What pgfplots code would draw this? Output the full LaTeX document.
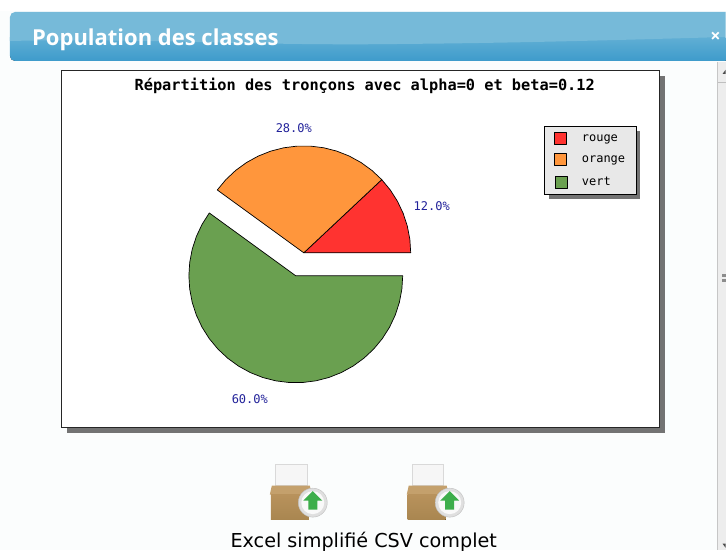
\documentclass[border=0pt]{standalone}
\usepackage{pgfplots}
\pgfplotsset{compat=1.18}
\usepackage{fontspec}
\setmainfont{DejaVu Sans}
\newfontfamily\monof{DejaVu Sans Mono}
\newfontfamily\headf{Open Sans}
\definecolor{pageb}{HTML}{FBFDFD}
\definecolor{rouge}{HTML}{FF3330}
\definecolor{orangep}{HTML}{FF963C}
\definecolor{vert}{HTML}{6AA050}
\definecolor{lab}{HTML}{22229A}
\definecolor{legb}{HTML}{E8E8E8}
\definecolor{headA}{HTML}{76BAD9}
\definecolor{headC}{HTML}{5FAED4}
\definecolor{headD}{HTML}{3E9BCB}
\definecolor{boxA}{HTML}{B8925C}
\definecolor{boxB}{HTML}{A98650}
\definecolor{boxC}{HTML}{C4A06C}
\definecolor{arrowg}{HTML}{3DAE4B}
\newcommand{\fs}[1]{\fontsize{#1}{#1}\selectfont}
\newcommand{\icon}[1]{%
\begin{scope}[shift={(axis cs:#1,0)},x=1pt,y=-1pt]
 \fill[white!93!gray,draw=gray!30] (275,465) rectangle (307,486);
 \fill[boxC] (272,486) -- (310,486) -- (312,495) -- (270,495) -- cycle;
 \fill[top color=boxA,bottom color=boxB] (271,495) rectangle (309,520);
 \fill[gray!25,draw=gray!50] (313,503) circle (14.5pt);
 \fill[white!95!gray] (313,503) circle (11.5pt);
 \fill[arrowg] (313,491.5) -- (322.5,501) -- (317.5,501) -- (317.5,510) -- (308.5,510) -- (308.5,501) -- (303.5,501) -- cycle;
\end{scope}}
\begin{document}
\begin{tikzpicture}
\begin{axis}[
 scale only axis,width=726pt,height=550pt,
 xmin=0,xmax=726,ymin=0,ymax=550,y dir=reverse,
 hide axis,clip=false,
 legend style={at={(axis cs:544.5,126.5)},anchor=north west,fill=legb,draw=black,line width=0.8pt,
   inner xsep=9pt,inner ysep=5.5pt,
   font=\monof\fs{12},row sep=8.5pt,cells={anchor=west}},
 legend cell align=left,
 area legend,
 legend image code/.code={\draw[#1] (0pt,-6pt) rectangle (12pt,6pt);\path[draw=none,fill=none] (0pt,0pt) -- (25pt,0pt);},
]
% page and window
\fill[pageb] (axis cs:0,0) rectangle (axis cs:726,550);
\fill[white] (axis cs:0,0) rectangle (axis cs:726,11);
% header bar
\begin{scope}
 \clip (axis cs:726,61) [rounded corners=5pt] -- (axis cs:10,61) -- (axis cs:10,12) [sharp corners] -- (axis cs:726,12) -- cycle;
 \fill[top color=headC,bottom color=headD] (axis cs:10,38) rectangle (axis cs:726,61);
 \fill[headA] (axis cs:10,41) .. controls (axis cs:150,38) and (axis cs:250,46) .. (axis cs:400,44) .. controls (axis cs:520,43) and (axis cs:620,40) .. (axis cs:726,37) -- (axis cs:726,12) -- (axis cs:10,12) -- cycle;
\end{scope}
\node[anchor=base west,inner sep=0pt,text=white,font=\headf\bfseries\fs{22}] at (axis cs:32,46) {Population des classes};
\node[text=white,font=\headf\bfseries\fs{18}] at (axis cs:716,37) {×};
% scrollbar
\fill[black!7] (axis cs:718,62) rectangle (axis cs:726,550);
\draw[gray!45,line width=1pt] (axis cs:718,62) -- (axis cs:718,550);
\draw[gray!50,line width=1pt] (axis cs:718,83) -- (axis cs:726,83);
\fill[black!70] (axis cs:723,74) -- (axis cs:726,70) -- (axis cs:726,74) -- cycle;
\fill[black!70] (axis cs:723,544) -- (axis cs:726,544) -- (axis cs:726,548) -- cycle;
\fill[black!45] (axis cs:722,274) rectangle (axis cs:726,277);
\fill[black!45] (axis cs:722,279) rectangle (axis cs:726,282);
% chart frame
\fill[black!55] (axis cs:67,76) rectangle (axis cs:665,433);
\filldraw[fill=white,draw=black!85,line width=1pt] (axis cs:62,71) rectangle (axis cs:660,428);
\node[font=\monof\bfseries\fs{15.3}] at (axis cs:365,85.5) {Répartition des tronçons avec alpha=0 et beta=0.12};
% legend shadow
\fill[black!55] (axis cs:549,131) rectangle (axis cs:640,199);
% Pie wedges, one per class: 12.0, 28.0, 60.0 per cent
\addplot[draw=black,line width=0.7pt,fill=rouge,line join=round] coordinates {
(304,253)(411,253)(410.15,239.59)(407.64,226.39)(403.49,213.61)(397.76,201.45)(390.56,190.11)(382,179.76)(304,253)};
\addlegendentry{rouge}
\addplot[draw=black,line width=0.7pt,fill=orangep,line join=round] coordinates {
(304,253)(382,179.76)(372.2,170.56)(361.33,162.66)(349.56,156.19)(337.06,151.23)(324.05,147.89)(310.72,146.21)(297.28,146.21)(283.95,147.89)(270.94,151.23)(258.44,156.19)(246.67,162.66)(235.8,170.56)(226,179.76)(217.44,190.11)(304,253)};
\addlegendentry{orange}
\addplot[draw=black,line width=0.7pt,fill=vert,line join=round,xshift=1pt,yshift=-1pt] coordinates {
(295,275)(208.44,212.11)(201.24,223.45)(195.51,235.61)(191.36,248.39)(188.85,261.59)(188,275)(188.85,288.41)(191.36,301.61)(195.51,314.39)(201.24,326.55)(208.44,337.89)(217,348.24)(226.8,357.44)(237.67,365.34)(249.44,371.81)(261.94,376.77)(274.95,380.11)(288.28,381.79)(301.72,381.79)(315.05,380.11)(328.06,376.77)(340.56,371.81)(352.33,365.34)(363.2,357.44)(373,348.24)(381.56,337.89)(388.76,326.55)(394.49,314.39)(398.64,301.61)(401.15,288.41)(402,275)(295,275)};
\addlegendentry{vert}
% value labels
\node[text=lab,font=\monof\fs{12}] at (axis cs:432,206) {12.0\%};
\node[text=lab,font=\monof\fs{12}] at (axis cs:294,128) {28.0\%};
\node[text=lab,font=\monof\fs{12}] at (axis cs:250,399) {60.0\%};
% download icons
\icon{0}
\icon{137}
\node[anchor=base,font=\fs{19.2}] at (axis cs:364,547.5) {Excel simplifié CSV complet};
\end{axis}
\end{tikzpicture}
\end{document}
